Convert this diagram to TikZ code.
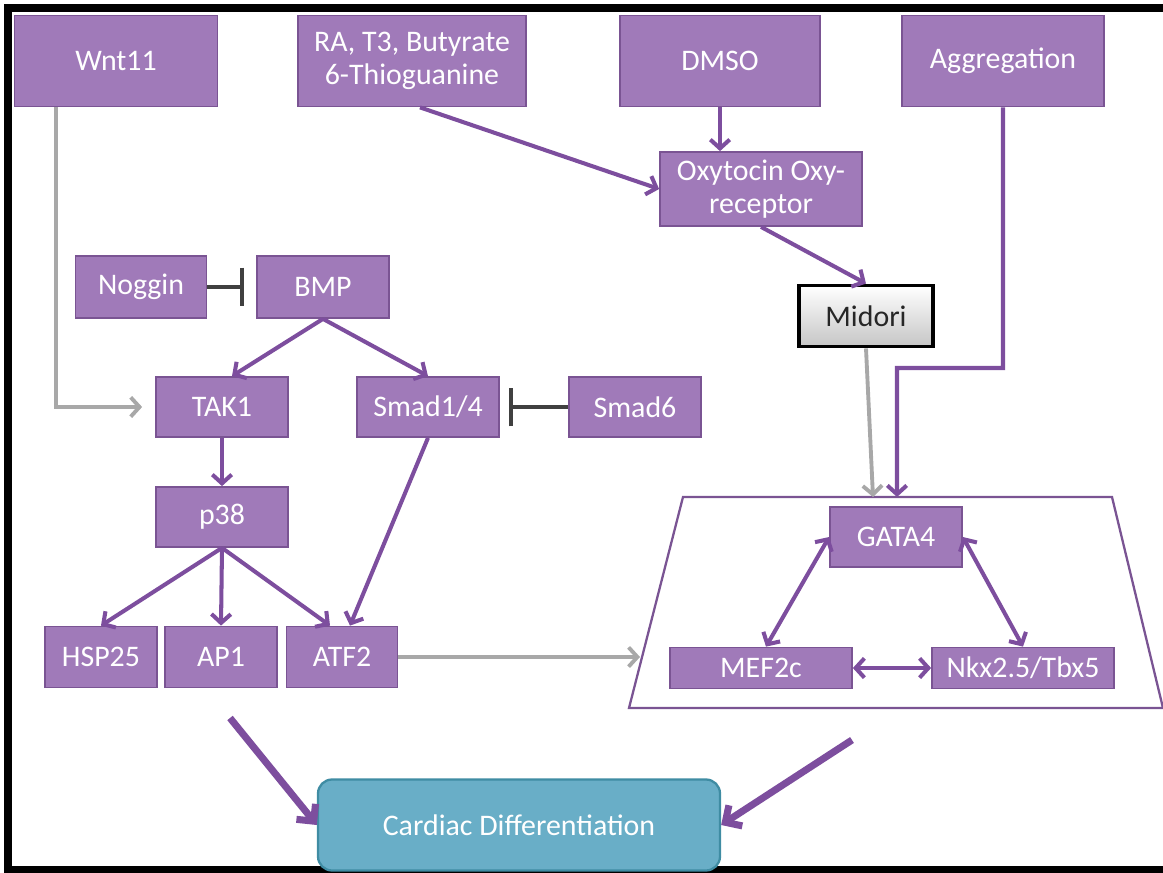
\documentclass[tikz,border=0pt]{standalone}
\usepackage{fontspec}
\setmainfont{Carlito}
\usetikzlibrary{arrows.meta}
\usetikzlibrary{shapes}

\definecolor{boxfill}{HTML}{A07AB9}
\definecolor{boxline}{HTML}{7A5493}
\definecolor{arrowpurple}{HTML}{7D4E9E}
\definecolor{arrowgray}{HTML}{A8A8A8}
\definecolor{blockgray}{HTML}{404040}
\definecolor{cardfill}{HTML}{69AEC7}
\definecolor{cardline}{HTML}{3F8CA3}

\begin{document}
\begin{tikzpicture}[x = 0.2mm, y = -0.2mm, font=\fontsize{17}{19}\selectfont]
	\tikzstyle{boxStyle} = [shape = rectangle, fill = boxfill, draw = boxline, line width = 1pt, text = white, align = center, inner sep = 2pt]
	\tikzstyle{midoriStyle} = [shape = rectangle, top color = white, bottom color = gray!45, draw = black, line width = 2.2pt, text = black!85, align = center]
	\tikzstyle{cardStyle} = [shape = rectangle, rounded corners = 8pt, fill = cardfill, draw = cardline, line width = 1.3pt, text = white]
	\tikzstyle{purpleArrow} = [draw = arrowpurple, line width = 2.3pt, -{Straight Barb[length=5pt, width=11pt]}]
	\tikzstyle{bothArrow} = [draw = arrowpurple, line width = 2.3pt, {Straight Barb[length=5pt, width=11pt]}-{Straight Barb[length=5pt, width=11pt]}]
	\tikzstyle{grayArrow} = [draw = arrowgray, line width = 2.2pt, -{Straight Barb[length=5pt, width=11pt]}]
	\tikzstyle{bigArrow} = [draw = arrowpurple, line width = 4pt, -{Straight Barb[length=7pt, width=14pt]}]
	\tikzstyle{blockArrow} = [draw = blockgray, line width = 2.3pt, -{Bar[width=22pt]}]
	\useasboundingbox (0,0) rectangle (1163,873);
	% frame
	\draw[line width = 4.5pt] (8,873) -- (8,8) -- (1163,8);
	\draw[line width = 4.5pt] (8,870) -- (1163,870);
	% top row
	\node[boxStyle, minimum width = 4.06cm, minimum height = 1.82cm] (wnt) at (116,61) {Wnt11};
	\node[boxStyle, minimum width = 4.56cm, minimum height = 1.82cm] (ra) at (412,61) {RA, T3, Butyrate\\6-Thioguanine};
	\node[boxStyle, minimum width = 4.0cm, minimum height = 1.82cm] (dmso) at (720,61) {DMSO};
	\node[boxStyle, minimum width = 4.04cm, minimum height = 1.82cm] (aggr) at (1003,61) {Aggregation};
	\node[boxStyle, minimum width = 4.04cm, minimum height = 1.48cm] (oxy) at (761,189) {Oxytocin Oxy-\\receptor};
	\node[midoriStyle, minimum width = 2.68cm, minimum height = 1.22cm] (midori) at (866,316) {Midori};
	% BMP branch
	\node[boxStyle, minimum width = 2.62cm, minimum height = 1.24cm] (noggin) at (141,287) {Noggin};
	\node[boxStyle, minimum width = 2.64cm, minimum height = 1.24cm] (bmp) at (323,287) {BMP};
	\node[boxStyle, minimum width = 2.64cm, minimum height = 1.2cm] (tak) at (222,407) {TAK1};
	\node[boxStyle, minimum width = 2.84cm, minimum height = 1.2cm] (smad) at (428,407) {Smad1/4};
	\node[boxStyle, minimum width = 2.64cm, minimum height = 1.2cm] (smadsix) at (635,407) {Smad6};
	\node[boxStyle, minimum width = 2.64cm, minimum height = 1.2cm] (pp) at (222,517) {p38};
	\node[boxStyle, minimum width = 2.24cm, minimum height = 1.22cm] (hsp) at (101,657) {HSP25};
	\node[boxStyle, minimum width = 2.24cm, minimum height = 1.22cm] (ap) at (221,657) {AP1};
	\node[boxStyle, minimum width = 2.22cm, minimum height = 1.22cm] (atf) at (342,657) {ATF2};
	% transcription factors
	\draw[draw = boxline, line width = 1.3pt] (683,497) -- (1112,497) -- (1163,708) -- (629,708) -- cycle;
	\coordinate (trapTop) at (885,497);
	\coordinate (trapLeft) at (640,657);
	\node[boxStyle, minimum width = 2.64cm, minimum height = 1.2cm] (gata) at (896,537) {GATA4};
	\node[boxStyle, minimum width = 3.64cm, minimum height = 0.82cm] (mef) at (761,668) {MEF2c};
	\node[boxStyle, minimum width = 3.64cm, minimum height = 0.82cm] (nkx) at (1023,668) {Nkx2.5/Tbx5};
	\node[cardStyle, minimum width = 8.04cm, minimum height = 1.82cm] (card) at (519,825) {Cardiac Differentiation};
	% connectors
	\draw[grayArrow] ([xshift=-1.2cm]wnt.south) |- ([xshift=-0.26cm]tak.west);
	\draw[purpleArrow] ([xshift=0.16cm]ra.south) -- (oxy.west);
	\draw[purpleArrow] (dmso.south) -- (dmso.south |- oxy.north);
	\draw[purpleArrow] (oxy.south) -- (midori.north);
	\draw[grayArrow] (midori.south) -- ([xshift=-0.24cm]trapTop);
	\draw[purpleArrow] (aggr.south) |- (897,368) -- ([xshift=0.24cm]trapTop);
	\draw[blockArrow] (noggin.east) -- ([xshift=-0.24cm]bmp.west);
	\draw[blockArrow] (smadsix.west) -- ([xshift=0.18cm]smad.east);
	\draw[purpleArrow] (bmp.south) -- ([xshift=0.2cm]tak.north);
	\draw[purpleArrow] (bmp.south) -- (smad.north);
	\draw[purpleArrow] (tak) -- (pp);
	\draw[purpleArrow] (pp.south) -- (hsp.north);
	\draw[purpleArrow] (pp.south) -- (ap.north);
	\draw[purpleArrow] (pp.south) -- ([xshift=-0.24cm]atf.north);
	\draw[purpleArrow] (smad.south) -- ([xshift=0.16cm]atf.north);
	\draw[grayArrow] (atf.east) -- (trapLeft);
	\draw[bothArrow] (gata.west) -- ([xshift=0.1cm]mef.north);
	\draw[bothArrow] (gata.east) -- (nkx.north);
	\draw[bothArrow] (mef) -- (nkx);
	\draw[bigArrow] (230,718) -- (card.west);
	\draw[bigArrow] (852,740) -- (card.east);
\end{tikzpicture}
\end{document}
